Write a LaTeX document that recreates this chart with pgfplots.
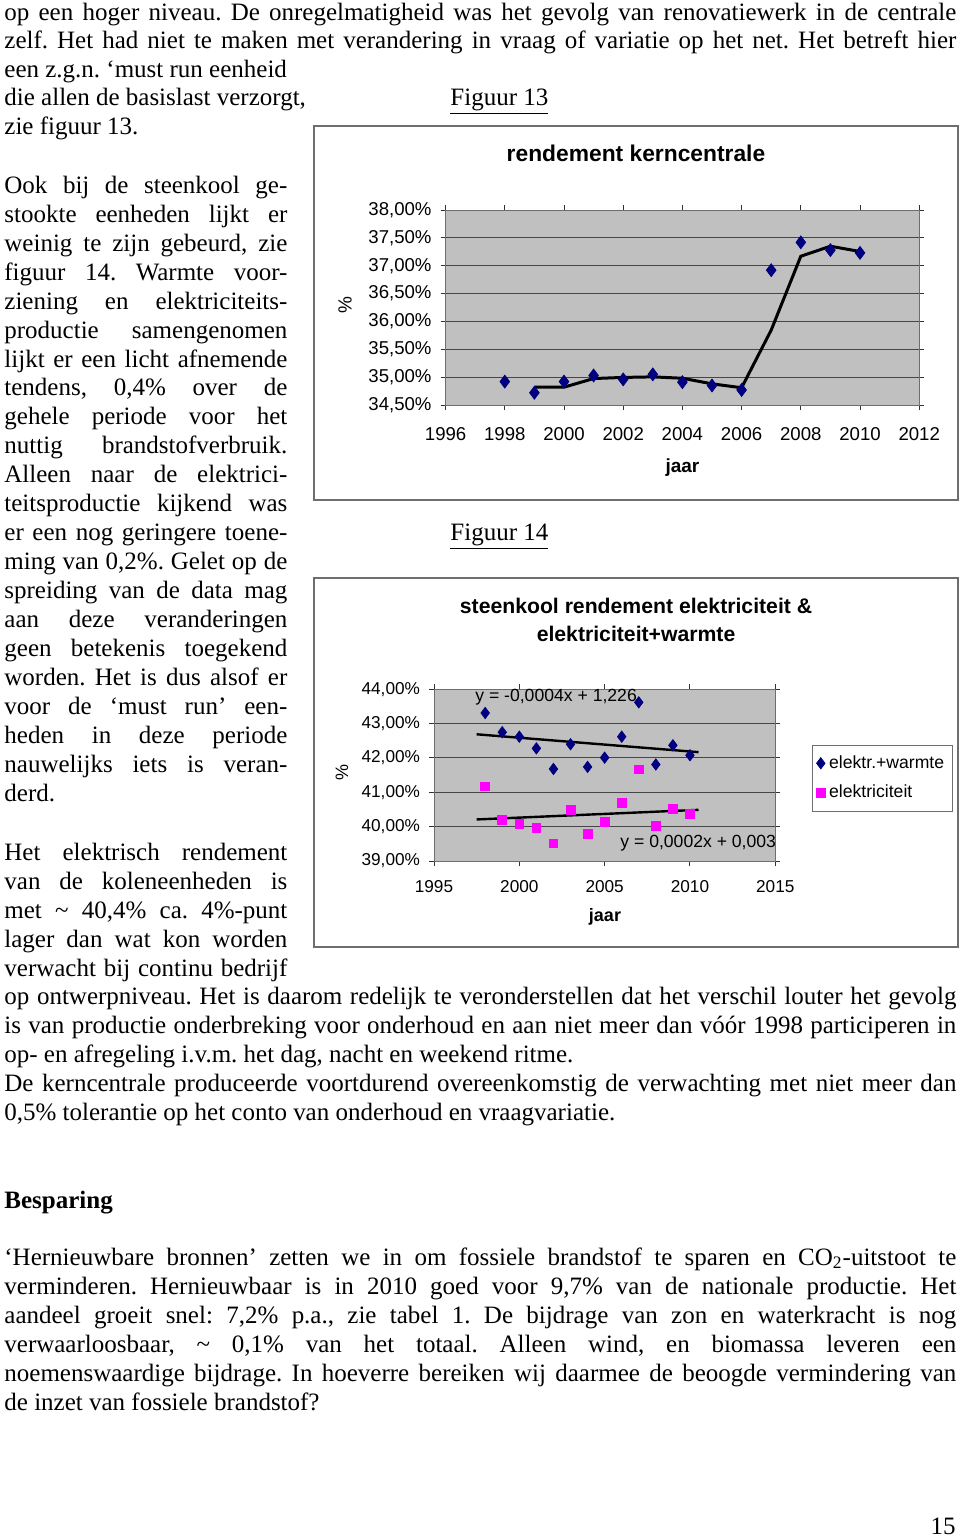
\documentclass[border=0pt]{standalone}
\usepackage{fontspec}
\setmainfont{Liberation Serif}
\newfontfamily\arial{Liberation Sans}
\usepackage{pgfplots}
\pgfplotsset{compat=1.18}
\definecolor{plotgray}{RGB}{192,192,192}
\definecolor{gridgray}{RGB}{70,70,70}
\definecolor{framegray}{RGB}{110,110,110}
\definecolor{navyblue}{RGB}{0,0,128}
\definecolor{pinkmag}{RGB}{255,0,255}

\newcommand\bodyfont{\fontsize{12.5}{14.5}\selectfont\frenchspacing}
\tikzset{tl/.style={anchor=base west,inner sep=0pt,font=\bodyfont}}
% left column line (justified), full width line (justified), plain line
\newcommand\jline[2]{\node[tl] at (2pt,-#1pt-1pt) {\makebox[141.5pt][s]{#2}};}
\newcommand\wline[2]{\node[tl] at (2pt,-#1pt-1pt) {\makebox[476pt][s]{#2}};}
\newcommand\pline[2]{\node[tl] at (2pt,-#1pt-1pt) {#2};}

\begin{document}
\begin{tikzpicture}
\useasboundingbox (0,0) rectangle (480pt,-768.5pt);

% ---- body text ----
\wline{9}{op een hoger niveau. De onregelmatigheid was het gevolg van renovatiewerk in de centrale}
\wline{23}{zelf. Het had niet te maken met verandering in vraag of variatie op het net. Het betreft hier}
\pline{37.5}{een z.g.n. ‘must run eenheid}
\pline{51.5}{die allen de basislast verzorgt,}
\pline{66}{zie figuur 13.}
\node[tl] at (225pt,-52.5pt) {\underline{Figuur 13}};
\node[tl] at (225pt,-270pt) {\underline{Figuur 14}};

\jline{95.5}{Ook bij de steenkool ge-}
\jline{110}{stookte eenheden lijkt er}
\jline{124.5}{weinig te zijn gebeurd, zie}
\jline{139}{figuur 14. Warmte voor-}
\jline{153.5}{ziening en elektriciteits-}
\jline{168}{productie samengenomen}
\jline{182.5}{lijkt er een licht afnemende}
\jline{196.5}{tendens, 0,4\% over de}
\jline{211}{gehele periode voor het}
\jline{225.5}{nuttig brandstofverbruik.}
\jline{240}{Alleen naar de elektrici-}
\jline{254.5}{teitsproductie kijkend was}
\jline{269}{er een nog geringere toene-}
\jline{283.5}{ming van 0,2\%. Gelet op de}
\jline{298}{spreiding van de data mag}
\jline{312.5}{aan deze veranderingen}
\jline{327}{geen betekenis toegekend}
\jline{341.5}{worden. Het is dus alsof er}
\jline{356}{voor de ‘must run’ een-}
\jline{370.5}{heden in deze periode}
\jline{385}{nauwelijks iets is veran-}
\pline{399.5}{derd.}

\jline{429}{Het elektrisch rendement}
\jline{443.5}{van de koleneenheden is}
\jline{458}{met \textasciitilde{} 40,4\% ca. 4\%-punt}
\jline{472.5}{lager dan wat kon worden}
\jline{487}{verwacht bij continu bedrijf}
\wline{501}{op ontwerpniveau. Het is daarom redelijk te veronderstellen dat het verschil louter het gevolg}
\wline{515.5}{is van productie onderbreking voor onderhoud en aan niet meer dan vóór 1998 participeren in}
\pline{530}{op- en afregeling i.v.m. het dag, nacht en weekend ritme.}
\wline{544.5}{De kerncentrale produceerde voortdurend overeenkomstig de verwachting met niet meer dan}
\pline{559}{0,5\% tolerantie op het conto van onderhoud en vraagvariatie.}

\pline{603}{\textbf{Besparing}}
\wline{631.5}{‘Hernieuwbare bronnen’ zetten we in om fossiele brandstof te sparen en CO\textsubscript{2}-uitstoot te}
\wline{646}{verminderen. Hernieuwbaar is in 2010 goed voor 9,7\% van de nationale productie. Het}
\wline{660.5}{aandeel groeit snel: 7,2\% p.a., zie tabel 1. De bijdrage van zon en waterkracht is nog}
\wline{675}{verwaarloosbaar, \textasciitilde{} 0,1\% van het totaal. Alleen wind, en biomassa leveren een}
\wline{689.5}{noemenswaardige bijdrage. In hoeverre bereiken wij daarmee de beoogde vermindering van}
\pline{704}{de inzet van fossiele brandstof?}
\node[anchor=base east,inner sep=0pt,font=\bodyfont] at (478pt,-767pt) {15};

% ---- chart frames ----
\draw[framegray,line width=0.6pt] (157pt,-63pt) rectangle (479pt,-250pt);
\draw[framegray,line width=0.6pt] (157pt,-289pt) rectangle (479pt,-473.5pt);

% ---- figuur 13 ----
\begin{axis}[
  at={(222.8pt,-202.5pt)}, anchor=south west, scale only axis,
  width=236.8pt, height=97.5pt,
  xmin=1996, xmax=2012, ymin=34.5, ymax=38,
  xtick={1996,1998,...,2012},
  xticklabels={1996,1998,2000,2002,2004,2006,2008,2010,2012},
  ytick={34.5,35,35.5,36,36.5,37,37.5,38},
  yticklabels={{34,50\%},{35,00\%},{35,50\%},{36,00\%},{36,50\%},{37,00\%},{37,50\%},{38,00\%}},
  tick align=outside, major tick length=2.5pt,
  tick style={black!80,line width=0.5pt},
  ymajorgrids, grid style={gridgray,line width=0.5pt},
  axis background/.style={fill=plotgray},
  axis line style={framegray,line width=0.5pt},
  ticklabel style={font=\arial\fontsize{9.3}{11}\selectfont},
  xticklabel style={yshift=-5pt},
  yticklabel style={xshift=-1pt},
  title={rendement kerncentrale},
  title style={at={(0.402,1.23)},anchor=center,font=\arial\bfseries\fontsize{11.4}{13}\selectfont},
  xlabel={jaar},
  xlabel style={at={(0.5,-0.32)},anchor=center,font=\arial\bfseries\fontsize{9.5}{11}\selectfont},
  ylabel={\%},
  ylabel style={at={(-0.212,0.513)},anchor=center,font=\arial\fontsize{9.5}{11}\selectfont},
  clip=false
]
\addplot[only marks,mark=diamond*,mark size=3.2pt,navyblue] coordinates {
  (1998,34.92)(1999,34.72)(2000,34.92)(2001,35.03)(2002,34.96)(2003,35.05)
  (2004,34.91)(2005,34.85)(2006,34.77)(2007,36.92)(2008,37.42)(2009,37.28)(2010,37.23)};
\addplot[black,line width=1.5pt,no markers] coordinates {
  (1999,34.82)(2000,34.82)(2001,34.975)(2002,34.995)(2003,35.005)(2004,34.98)
  (2005,34.88)(2006,34.81)(2007,35.845)(2008,37.17)(2009,37.35)(2010,37.255)};
\end{axis}

% ---- figuur 14 ----
\begin{axis}[
  at={(217pt,-430.5pt)}, anchor=south west, scale only axis,
  width=170.65pt, height=85.85pt,
  xmin=1995, xmax=2015, ymin=39, ymax=44,
  xtick={1995,2000,2005,2010,2015},
  xticklabels={1995,2000,2005,2010,2015},
  ytick={39,40,41,42,43,44},
  yticklabels={{39,00\%},{40,00\%},{41,00\%},{42,00\%},{43,00\%},{44,00\%}},
  tick align=outside, major tick length=2.5pt,
  tick style={black!80,line width=0.5pt},
  ymajorgrids, grid style={gridgray,line width=0.5pt},
  axis background/.style={fill=plotgray},
  axis line style={framegray,line width=0.5pt},
  ticklabel style={font=\arial\fontsize{8.6}{10}\selectfont},
  xticklabel style={yshift=-3.5pt},
  yticklabel style={xshift=-1pt},
  title={steenkool rendement elektriciteit \&\\elektriciteit+warmte},
  title style={at={(0.592,1.334)},anchor=center,align=center,font=\arial\bfseries\fontsize{10.6}{14}\selectfont},
  xlabel={jaar},
  xlabel style={at={(0.501,-0.326)},anchor=center,font=\arial\bfseries\fontsize{9}{11}\selectfont},
  ylabel={\%},
  ylabel style={at={(-0.27,0.518)},anchor=center,font=\arial\fontsize{9}{11}\selectfont},
  legend style={at={(1.1075,0.6756)},anchor=north west,draw=framegray,fill=white,
    font=\arial\fontsize{8.8}{10}\selectfont,row sep=3pt,inner xsep=2pt,inner ysep=3pt},
  legend cell align=left,
  clip=false
]
\addplot[only marks,mark=diamond*,mark size=2.8pt,navyblue] coordinates {
  (1998,43.31)(1999,42.75)(2000,42.62)(2001,42.28)(2002,41.68)(2003,42.40)(2004,41.74)
  (2005,42.01)(2006,42.62)(2007,43.62)(2008,41.81)(2009,42.37)(2010,42.08)};
\addlegendentry{elektr.+warmte}
\addplot[only marks,mark=square*,mark size=2.2pt,pinkmag] coordinates {
  (1998,41.17)(1999,40.19)(2000,40.08)(2001,39.96)(2002,39.51)(2003,40.48)(2004,39.79)
  (2005,40.14)(2006,40.69)(2007,41.67)(2008,40.02)(2009,40.51)(2010,40.37)};
\addlegendentry{elektriciteit}
\addplot[black,line width=1.2pt,no markers,forget plot] coordinates {(1997.5,42.69)(2010.5,42.17)};
\addplot[black,line width=1.2pt,no markers,forget plot] coordinates {(1997.5,40.21)(2010.5,40.49)};
\node[anchor=west,inner sep=0pt,font=\arial\fontsize{8.8}{10}\selectfont] at (axis cs:1997.4,43.78) {y = -0,0004x + 1,226};
\node[anchor=west,inner sep=0pt,font=\arial\fontsize{8.8}{10}\selectfont] at (axis cs:2005.9,39.52) {y = 0,0002x + 0,003};
\end{axis}
\end{tikzpicture}
\end{document}
